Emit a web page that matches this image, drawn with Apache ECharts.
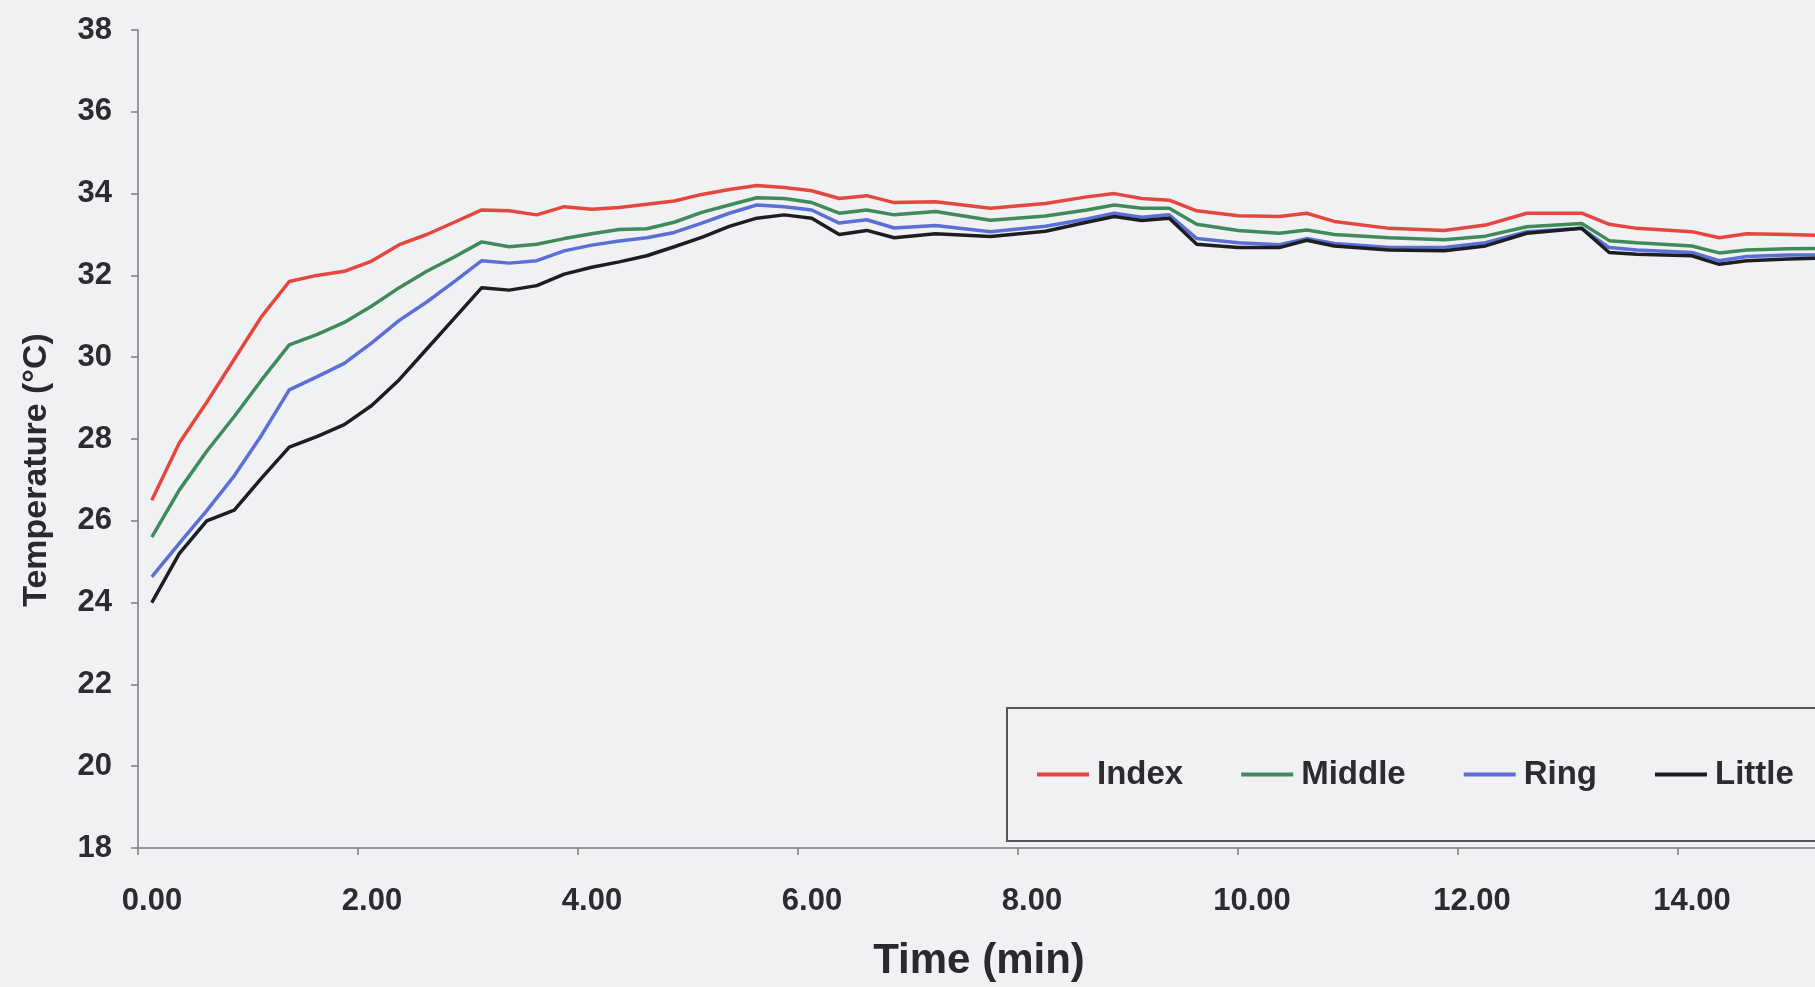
<!DOCTYPE html>
<html>
<head>
<meta charset="utf-8">
<script src="https://cdn.jsdelivr.net/npm/echarts@6/dist/echarts.min.js"></script>
<style>html,body{margin:0;padding:0;background:#eff1f3}#c{width:1815px;height:987px}</style>
</head>
<body>
<div id="c"></div>
<script>
const times = [0.125,0.375,0.625,0.875,1.125,1.375,1.625,1.875,2.125,2.375,2.625,2.875,3.125,3.375,3.625,3.875,4.125,4.375,4.625,4.875,5.125,5.375,5.625,5.875,6.125,6.375,6.625,6.875,7.25,7.75,8.25,8.625,8.875,9.125,9.375,9.625,10.0,10.375,10.625,10.875,11.375,11.875,12.25,12.625,13.125,13.375,13.625,14.125,14.375,14.625,15.0,15.25];
const indexT = [26.5,27.9,28.9,29.95,31.0,31.85,32.0,32.1,32.35,32.75,33.0,33.3,33.6,33.58,33.48,33.68,33.62,33.66,33.74,33.82,33.98,34.1,34.2,34.15,34.07,33.88,33.95,33.78,33.8,33.64,33.76,33.92,34.0,33.88,33.84,33.58,33.46,33.44,33.52,33.32,33.15,33.1,33.23,33.52,33.52,33.25,33.15,33.07,32.92,33.02,33.0,32.98];
const middleT = [25.6,26.75,27.7,28.55,29.45,30.3,30.55,30.85,31.25,31.7,32.1,32.45,32.82,32.7,32.76,32.9,33.02,33.12,33.14,33.3,33.54,33.72,33.9,33.88,33.78,33.52,33.6,33.48,33.56,33.35,33.45,33.6,33.72,33.64,33.64,33.25,33.1,33.03,33.11,33.0,32.92,32.87,32.96,33.19,33.27,32.85,32.8,32.72,32.55,32.62,32.65,32.66];
const ringT = [24.63,25.45,26.25,27.1,28.1,29.2,29.52,29.85,30.35,30.9,31.35,31.85,32.36,32.3,32.36,32.6,32.74,32.84,32.92,33.05,33.28,33.52,33.72,33.68,33.6,33.28,33.36,33.16,33.22,33.07,33.2,33.38,33.52,33.42,33.48,32.9,32.8,32.75,32.9,32.78,32.68,32.68,32.8,33.07,33.15,32.68,32.62,32.56,32.36,32.46,32.5,32.5];
const littleT = [24.0,25.2,26.0,26.26,27.05,27.8,28.06,28.35,28.82,29.45,30.2,30.95,31.7,31.64,31.75,32.03,32.2,32.33,32.48,32.7,32.93,33.2,33.4,33.48,33.4,33.0,33.1,32.92,33.02,32.95,33.08,33.3,33.44,33.34,33.4,32.76,32.68,32.68,32.86,32.72,32.62,32.6,32.72,33.03,33.15,32.56,32.52,32.48,32.27,32.36,32.4,32.42];
const seriesNames = ['Index','Middle','Ring','Little'];
const seriesColors = ['#e5473f','#3f8a5a','#5b6fd6','#1e1e22'];
const seriesValues = [indexT, middleT, ringT, littleT];

const chart = echarts.init(document.getElementById('c'));
const FONT = '"Liberation Sans", Arial, sans-serif';
chart.setOption({
  backgroundColor: '#eff1f3',
  animation: false,
  grid: {left: 138, top: 30, width: 1760, height: 818, containLabel: false, outerBoundsMode: 'none'},
  legend: {
    left: 1007, top: 708, width: 900,
    orient: 'horizontal',
    padding: [50, 80, 50, 30],
    itemGap: 58,
    itemWidth: 52, itemHeight: 4,
    icon: 'rect',
    borderColor: '#555',
    borderWidth: 2,
    textStyle: {fontFamily: FONT, fontWeight: 'bold', fontSize: 33, color: '#2c2c30', lineHeight: 28, padding: [0,0,0,3]},
    data: seriesNames
  },
  xAxis: {
    type: 'value', min: 0, max: 16, interval: 2,
    name: 'Time (min)', nameLocation: 'middle', nameGap: 92,
    nameTextStyle: {fontFamily: FONT, fontWeight: 'bold', fontSize: 42, color: '#2a2a2e', padding: [0, 78, 0, 0]},
    axisLine: {lineStyle: {color: '#7a7a86', width: 1.5}},
    axisTick: {inside: false, length: 7, lineStyle: {color: '#7a7a86', width: 1.5}},
    axisLabel: {fontFamily: FONT, fontWeight: 'bold', fontSize: 31, color: '#2c2c30', margin: 38, padding: [0,0,0,28],
      formatter: v => v.toFixed(2)},
    splitLine: {show: false}
  },
  yAxis: {
    type: 'value', min: 18, max: 38, interval: 2,
    name: 'Temperature (°C)', nameLocation: 'middle', nameGap: 84,
    nameTextStyle: {fontFamily: FONT, fontWeight: 'bold', fontSize: 34, color: '#2a2a2e', padding: [0, 62, 0, 0]},
    axisLine: {show: true, lineStyle: {color: '#7a7a86', width: 1.5}},
    axisTick: {show: true, inside: false, length: 7, lineStyle: {color: '#7a7a86', width: 1.5}},
    axisLabel: {fontFamily: FONT, fontWeight: 'bold', fontSize: 31, color: '#2c2c30', margin: 26},
    splitLine: {show: false}
  },
  series: seriesNames.map((n, i) => ({
    name: n, type: 'line', symbol: 'none', smooth: false,
    color: seriesColors[i],
    lineStyle: {width: 3.5, color: seriesColors[i]},
    data: times.map((t, k) => [t, seriesValues[i][k]])
  }))
});
</script>
</body>
</html>
